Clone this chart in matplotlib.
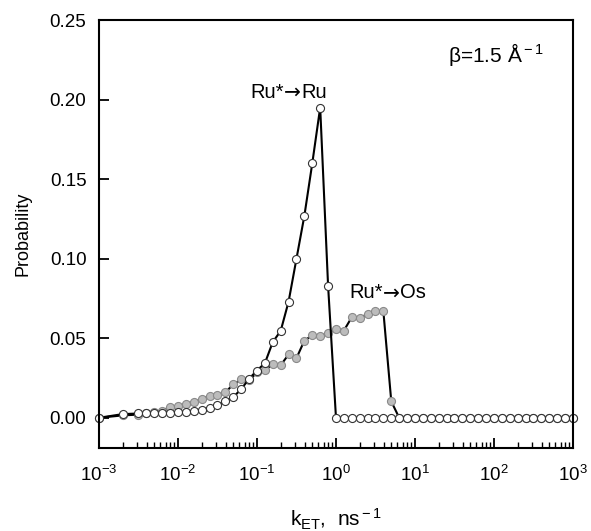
import numpy as np
from matplotlib import pyplot as plt

# log10(k_ET) positions and probabilities
ru_logk = [-3.0, -2.7, -2.5, -2.4, -2.3, -2.2, -2.1, -2.0, -1.9, -1.8, -1.7,
           -1.6, -1.5, -1.4, -1.3, -1.2, -1.1, -1.0, -0.9, -0.8, -0.7, -0.6,
           -0.5, -0.4, -0.3, -0.2, -0.1] + [round(0.1 * i, 1) for i in range(31)]
ru_prob = [0.0, 0.0023, 0.0027, 0.0030, 0.0030, 0.0032, 0.0032, 0.0036, 0.0038,
           0.0043, 0.0050, 0.0062, 0.0078, 0.0105, 0.0130, 0.0180, 0.0245,
           0.0297, 0.0343, 0.0476, 0.0546, 0.0730, 0.1000, 0.1270, 0.1600,
           0.1950, 0.0830] + [0.0] * 31

os_logk = [-3.0, -2.7, -2.5, -2.4, -2.3, -2.2, -2.1, -2.0, -1.9, -1.8, -1.7,
           -1.6, -1.5, -1.4, -1.3, -1.2, -1.1, -1.0, -0.9, -0.8, -0.7, -0.6,
           -0.5, -0.4, -0.3, -0.2, -0.1, 0.0, 0.1, 0.2, 0.3, 0.4, 0.5, 0.6,
           0.7] + [round(0.8 + 0.1 * i, 1) for i in range(23)]
os_prob = [0.0, 0.0015, 0.0020, 0.0028, 0.0035, 0.0045, 0.0068, 0.0072, 0.0088,
           0.0100, 0.0115, 0.0140, 0.0144, 0.0160, 0.0210, 0.0241, 0.0235,
           0.0285, 0.0300, 0.0335, 0.0330, 0.0398, 0.0375, 0.0485, 0.0518,
           0.0515, 0.0530, 0.0560, 0.0548, 0.0632, 0.0626, 0.0653, 0.0668,
           0.0668, 0.0103] + [0.0] * 23

plt.rcParams['font.family'] = ['Liberation Sans', 'DejaVu Sans']
plt.rcParams['mathtext.fontset'] = 'custom'
plt.rcParams['mathtext.rm'] = 'Liberation Sans'
plt.rcParams['mathtext.it'] = 'Liberation Sans'
plt.rcParams['font.size'] = 13.5


def arrow_label(ax, x, y, left, right, size=14.5):
    # "left -> right" with a wide DejaVu arrow in the middle
    ax.annotate('→', (x, y), ha='center', va='center', fontsize=size,
                family='DejaVu Sans')
    ax.annotate(left, (x, y), xytext=(-6.3, 0), textcoords='offset points',
                ha='right', va='center', fontsize=size)
    ax.annotate(right, (x, y), xytext=(6.3, 0), textcoords='offset points',
                ha='left', va='center', fontsize=size)


def main():
    fig = plt.figure(figsize=(5.91, 5.31), dpi=100)
    ax = fig.add_axes([0.1675, 0.1563, 0.802, 0.806])

    ax.plot(10 ** np.array(os_logk), os_prob, '-o', color='black', lw=1.5,
            ms=5.8, mfc='#bcbcbc', mec='#8a8a8a', mew=0.8, clip_on=False)
    ax.plot(10 ** np.array(ru_logk), ru_prob, '-o', color='black', lw=1.5,
            ms=5.8, mfc='white', mec='#333333', mew=0.8, clip_on=False)

    ax.set_xscale('log')
    ax.set_xlim(1e-3, 1e3)
    ax.set_ylim(-0.019, 0.25)
    ax.set_yticks([0.0, 0.05, 0.10, 0.15, 0.20, 0.25])
    ax.set_yticklabels(['0.00', '0.05', '0.10', '0.15', '0.20', '0.25'])
    ax.set_xticks([1e-3, 1e-2, 1e-1, 1e0, 1e1, 1e2, 1e3])

    ax.tick_params(which='major', direction='in', length=7, width=1.3,
                   top=False, right=False)
    ax.tick_params(axis='x', which='major', pad=12)
    ax.tick_params(axis='y', which='major', pad=9)
    ax.tick_params(which='minor', direction='in', length=4, width=1.0,
                   top=False, right=False)
    for s in ax.spines.values():
        s.set_linewidth(1.5)

    ax.set_ylabel('Probability', fontsize=13, labelpad=13)
    ax.set_xlabel(r'k$_{\rm ET}$,  ns$^{\rm -1}$', fontsize=15, labelpad=16)

    arrow_label(ax, 10 ** -0.55, 0.2045, 'Ru*', 'Ru')
    arrow_label(ax, 10 ** 0.70, 0.0785, 'Ru*', 'Os')
    ax.text(10 ** 2.03, 0.2285, r'β=1.5 Å$^{\rm -1}$', ha='center',
            va='center', fontsize=15)

    fig.savefig('out.png', dpi=100)


if __name__ == "__main__":
    main()
